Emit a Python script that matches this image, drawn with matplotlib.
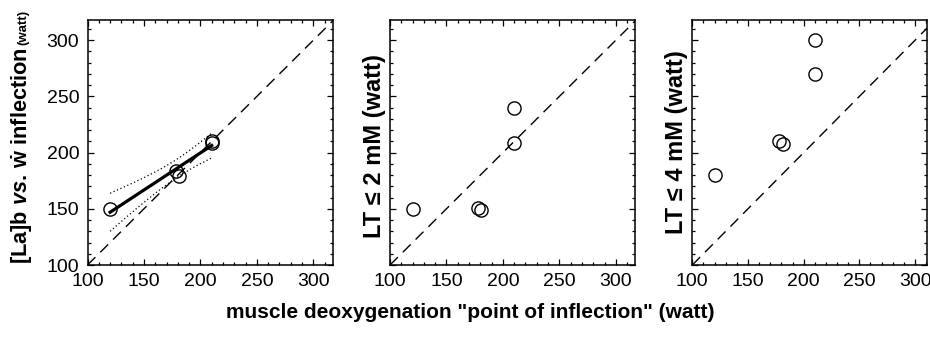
import numpy as np
import matplotlib
matplotlib.use('Agg')
import matplotlib.pyplot as plt

plt.rcParams['font.family'] = ['Liberation Sans', 'DejaVu Sans']
plt.rcParams['mathtext.fontset'] = 'custom'
plt.rcParams['mathtext.rm'] = 'Liberation Sans:bold'
plt.rcParams['mathtext.it'] = 'Liberation Sans:italic:bold'
plt.rcParams['mathtext.bf'] = 'Liberation Sans:bold'

# data (watt)
x_inflection = [120, 178, 181, 210, 210]
y_lab = [150, 184, 179, 210, 209]
y_lt2 = [150, 151, 149, 240, 209]
y_lt4 = [180, 210, 208, 300, 270]
ticks = [100, 150, 200, 250, 300]

# linear fit with 95% confidence band for the first panel
xa = np.array(x_inflection, dtype=float)
ya = np.array(y_lab, dtype=float)
slope, icpt = np.polyfit(xa, ya, 1)
resid = ya - (slope * xa + icpt)
s = np.sqrt(np.sum(resid**2) / (len(xa) - 2))
sxx = np.sum((xa - xa.mean())**2)
t975 = 3.182  # t(0.975, df=3)
xf = np.linspace(xa.min(), xa.max(), 50)
yf = slope * xf + icpt
half = t975 * s * np.sqrt(1.0 / len(xa) + (xf - xa.mean())**2 / sxx)

W, H = 930, 337
fig = plt.figure(figsize=(W / 100, H / 100), dpi=100)

# axes boxes in pixels: left, width, right limit
boxes = [(87.5, 245, 317), (390, 245, 317), (692.3, 235, 311)]
panels = [y_lab, y_lt2, y_lt4]
axes = []
for i, (left, wpx, xmax) in enumerate(boxes):
    ax = fig.add_axes([left / W, (H - 265) / H, wpx / W, 245 / H])
    ax.set_xlim(100, xmax)
    ax.set_ylim(100, 318)
    ax.plot([100, 330], [100, 330], color='black', lw=1.0,
            linestyle=(0, (8, 5)), zorder=1)
    ax.plot(x_inflection, panels[i], 'o', mfc='none', mec='black',
            ms=9.5, mew=1.0, zorder=3)
    ax.set_xticks(ticks)
    ax.set_yticks(ticks)
    ax.set_xticks(np.arange(100, 320, 10), minor=True)
    ax.set_yticks(np.arange(100, 320, 10), minor=True)
    ax.tick_params(which='both', direction='in', top=True, right=True,
                   labelsize=14, width=0.9)
    ax.tick_params(which='major', length=4.5, pad=6)
    ax.tick_params(which='minor', length=2.2)
    if i > 0:
        ax.set_yticklabels([])
    for sp in ax.spines.values():
        sp.set_linewidth(1.1)
    axes.append(ax)

ax1 = axes[0]
ax1.plot(xf, yf, color='black', lw=2.3, zorder=2)
ax1.plot(xf, yf + half, color='black', lw=0.9, linestyle=(0, (1, 2)), zorder=2)
ax1.plot(xf, yf - half, color='black', lw=0.9, linestyle=(0, (1, 2)), zorder=2)

# y labels
t1 = fig.text(22 / W, 1 - 264 / H, r'[La]b $\it{vs.}$$\,\dot{\rm w}$ inflection',
              rotation=90, ha='center', va='bottom', fontsize=15.7, fontweight='bold')
fig.canvas.draw()
bb = t1.get_window_extent()
fig.text(23 / W, (bb.y1 + 2) / H, '(watt)', rotation=90, ha='center',
         va='bottom', fontsize=9.5, fontweight='bold')
fig.text(375 / W, 1 - 146.5 / H, u'LT \u2264 2 mM (watt)', rotation=90,
         ha='center', va='center', fontsize=17, fontweight='bold')
fig.text(676 / W, 1 - 142.5 / H, u'LT \u2264 4 mM (watt)', rotation=90,
         ha='center', va='center', fontsize=17, fontweight='bold')

fig.text(470 / W, 1 - 312 / H, 'muscle deoxygenation "point of inflection" (watt)',
         ha='center', va='center', fontsize=15, fontweight='bold')

fig.savefig('out.png', dpi=100)
